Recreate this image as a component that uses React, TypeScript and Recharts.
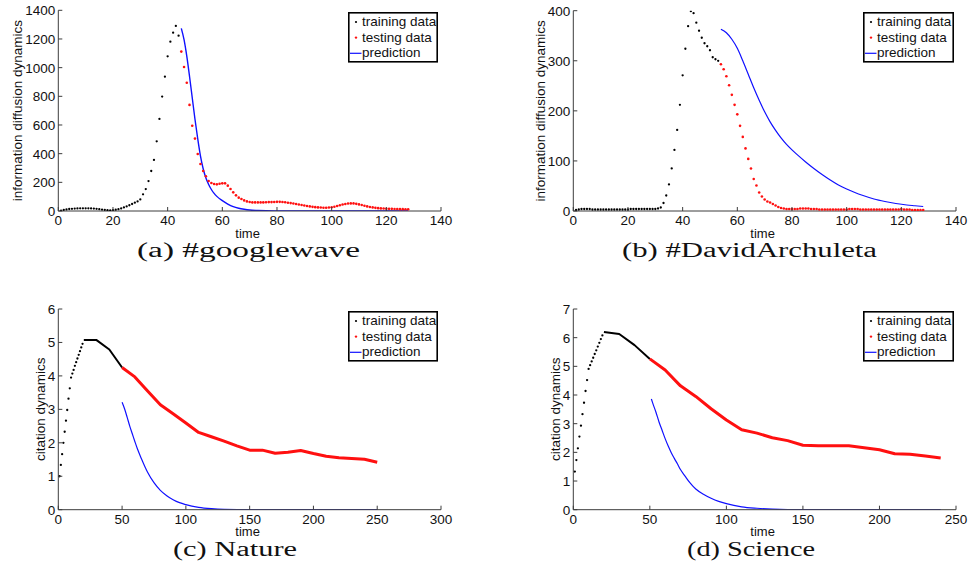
import React from "react";
import { LineChart, Line, XAxis, YAxis } from "recharts";

const SANS = "'Liberation Sans', Arial, Helvetica, sans-serif";
const SERIF = "'Liberation Serif', 'Times New Roman', serif";
const AXIS = "#3c3c3c";
const INK = "#111";
const BLACK = "#000";
const RED = "#ff1010";
const BLUE = "#1010ff";

// (a) #googlewave  (one value per time step)
const gwTrainStart = 1;
const gwTrain = [
  3, 8, 11, 14, 15, 17, 18, 19, 19, 19,
  19, 18, 17, 15, 13, 10, 8, 6, 5, 6,
  9, 13, 18, 25, 32, 40, 49, 58, 67, 81,
  116, 153, 209, 279, 356, 486, 642, 798, 937, 1079,
  1181, 1244, 1291, 1223,
];
const gwTestStart = 45;
const gwTest = [
  1112, 1005, 895, 740, 595, 505, 398, 328, 279, 242,
  209, 195, 188, 186, 190, 193, 193, 177, 153, 130,
  109, 93, 84, 74, 67, 63, 60, 60, 60, 60,
  60, 61, 62, 62, 63, 64, 64, 63, 61, 58,
  55, 52, 49, 45, 42, 38, 35, 32, 29, 27,
  25, 24, 23, 23, 24, 26, 30, 35, 40, 45,
  49, 52, 53, 53, 50, 46, 42, 37, 32, 28,
  25, 22, 20, 18, 17, 16, 15, 15, 14, 14,
  13, 13, 12, 12,
];
const gwPredT = [45, 46, 47, 48, 49, 50, 51, 52, 53, 54, 55, 56, 57, 58, 60, 62, 64, 66, 68, 70, 73, 76, 80, 90, 128];
const gwPredV = [1274, 1195, 1080, 940, 790, 640, 505, 385, 295, 230, 185, 150, 123, 102, 72, 48, 30, 19, 12, 7, 4, 2, 1, 0, 0];

// (b) #DavidArchuleta
const daTrainStart = 1;
const daTrain = [
  2, 3, 4, 4, 4, 4, 3, 3, 3, 3,
  3, 3, 3, 3, 3, 3, 3, 3, 3, 3,
  4, 4, 4, 4, 4, 4, 4, 4, 4, 4,
  5, 7, 16, 31, 53, 85, 122, 162, 212, 271,
  324, 369, 399, 395, 376, 360, 346, 335, 329, 321,
  307, 303, 300,
];
const daTestStart = 54;
const daTest = [
  293, 283, 269, 251, 232, 212, 193, 170, 148, 125,
  104, 85, 64, 51, 37, 29, 23, 19, 17, 14,
  11, 8, 6, 5, 4, 4, 4, 4, 4, 5,
  5, 5, 5, 4, 4, 4, 3, 3, 3, 3,
  3, 3, 3, 3, 3, 3, 3, 4, 4, 4,
  4, 3, 3, 3, 3, 3, 3, 3, 3, 3,
  3, 3, 3, 3, 3, 3, 4, 3, 3, 3,
  2, 2, 2, 2, 2,
];
const daPredT = [54, 56, 58, 60, 62, 64, 66, 68, 70, 72, 74, 76, 78, 80, 82, 85, 88, 91, 94, 97, 100, 103, 106, 110, 114, 118, 122, 125, 128];
const daPredV = [363, 356, 343, 325, 300, 273, 246, 221, 198, 178, 161, 146, 133, 122, 112, 98, 85, 73, 62, 52, 44, 37, 31, 24, 19, 15, 12, 10.5, 9];

// (c) Nature
const natDotStart = 1;
const natDots = [1.0, 1.34, 1.66, 2.0, 2.33, 2.66, 2.98, 3.32, 3.63, 3.95, 4.07, 4.18, 4.3, 4.41, 4.52, 4.63, 4.74, 4.85, 4.96];
const natTrainT = [20, 30, 40, 50];
const natTrainV = [5.07, 5.07, 4.79, 4.25];
const natTestT = [50, 60, 70, 80, 90, 100, 110, 120, 130, 140, 150, 160, 170, 180, 190, 200, 210, 220, 230, 240, 250];
const natTestV = [4.25, 3.97, 3.55, 3.14, 2.87, 2.59, 2.31, 2.18, 2.05, 1.91, 1.78, 1.78, 1.69, 1.72, 1.77, 1.68, 1.6, 1.55, 1.53, 1.51, 1.42];
const natPredT = [50, 52, 54, 56, 58, 60, 62, 65, 68, 70, 75, 80, 85, 90, 95, 100, 110, 120, 130, 150, 250];
const natPredV = [3.21, 3.01, 2.76, 2.5, 2.27, 2.04, 1.82, 1.54, 1.28, 1.12, 0.81, 0.58, 0.42, 0.3, 0.21, 0.15, 0.07, 0.03, 0.01, 0, 0];

// (d) Science
const sciDotStart = 1;
const sciDots = [1.33, 1.73, 2.14, 2.55, 2.93, 3.33, 3.73, 4.14, 4.52, 4.91, 5.04, 5.17, 5.3, 5.43, 5.56, 5.69, 5.82, 5.95, 6.08];
const sciTrainT = [20, 30, 40, 50];
const sciTrainV = [6.2, 6.13, 5.74, 5.26];
const sciTestT = [50, 60, 70, 80, 90, 100, 110, 120, 130, 140, 150, 160, 170, 180, 190, 200, 210, 220, 230, 240];
const sciTestV = [5.26, 4.87, 4.32, 3.95, 3.52, 3.13, 2.79, 2.67, 2.51, 2.41, 2.25, 2.23, 2.23, 2.23, 2.16, 2.09, 1.95, 1.93, 1.87, 1.8];
const sciPredT = [51, 52, 54, 56, 58, 60, 62, 64, 66, 68, 70, 73, 76, 80, 85, 90, 95, 100, 110, 120, 130, 150, 240];
const sciPredV = [3.86, 3.7, 3.4, 3.06, 2.77, 2.48, 2.22, 1.99, 1.79, 1.6, 1.4, 1.17, 0.95, 0.72, 0.54, 0.4, 0.29, 0.21, 0.1, 0.05, 0.02, 0, 0];

const legendLabels = ["training data", "testing data", "prediction"];

type Pt = { t: number; v: number };
const fromStart = (start: number, vals: number[]): Pt[] => vals.map((v, i) => ({ t: start + i, v }));
const zip = (ts: number[], vs: number[]): Pt[] => ts.map((t, i) => ({ t, v: vs[i] }));

type Series = { data: Pt[]; kind: "dots" | "line" | "curve"; color: string; size: number };

const XTick = (props: any) => {
  const { x, y, payload } = props;
  return (
    <g>
      <line x1={x} y1={y} x2={x} y2={y - 4} stroke={AXIS} strokeWidth={1} />
      <text x={x} y={y + 14} textAnchor="middle" fontFamily={SANS} fontSize={13.5} fill={INK}>
        {payload.value}
      </text>
    </g>
  );
};

const YTick = (props: any) => {
  const { x, y, payload } = props;
  return (
    <g>
      <line x1={x} y1={y} x2={x + 4} y2={y} stroke={AXIS} strokeWidth={1} />
      <text x={x - 3} y={y + 5} textAnchor="end" fontFamily={SANS} fontSize={13.5} fill={INK}>
        {payload.value}
      </text>
    </g>
  );
};

const LegendBox = ({ x, y, w }: { x: number; y: number; w: number }) => (
  <svg width={w} height={52} style={{ position: "absolute", left: x, top: y }}>
    <rect x={0.8} y={0.8} width={w - 1.6} height={49} fill="#fff" stroke="#000" strokeWidth={1.6} />
    <circle cx={8} cy={10} r={1.1} fill={BLACK} />
    <circle cx={8} cy={25.6} r={1.2} fill={RED} />
    <line x1={2} y1={41.3} x2={13.5} y2={41.3} stroke={BLUE} strokeWidth={1.2} />
    {legendLabels.map((l, i) => (
      <text key={l} x={14} y={13.8 + i * 15.7} fontFamily={SANS} fontSize={13.5} fill={INK}>
        {l}
      </text>
    ))}
  </svg>
);

interface PanelProps {
  left: number;
  top: number;
  width: number;
  height: number;
  plot: { x: number; y: number; w: number; h: number };
  xDomain: [number, number];
  xTicks: number[];
  yDomain: [number, number];
  yTicks: number[];
  yLabel: string;
  yLabelX: number;
  series: Series[];
  legendX: number;
}

const Panel = (p: PanelProps) => {
  const { plot } = p;
  const xAxisH = 30;
  return (
    <div style={{ position: "absolute", left: p.left, top: p.top, width: p.width, height: p.height }}>
      <LineChart
        width={p.width}
        height={p.height}
        margin={{
          top: plot.y,
          right: p.width - plot.x - plot.w,
          bottom: p.height - plot.y - plot.h - xAxisH,
          left: 0,
        }}
      >
        <XAxis
          type="number"
          dataKey="t"
          domain={p.xDomain}
          ticks={p.xTicks}
          interval={0}
          allowDataOverflow
          height={xAxisH}
          tickSize={0}
          tickMargin={0}
          tickLine={false}
          axisLine={{ stroke: AXIS, strokeWidth: 1 }}
          tick={XTick}
        />
        <YAxis
          type="number"
          domain={p.yDomain}
          ticks={p.yTicks}
          interval={0}
          allowDataOverflow
          width={plot.x}
          tickSize={0}
          tickMargin={0}
          tickLine={false}
          axisLine={{ stroke: AXIS, strokeWidth: 1 }}
          tick={YTick}
        />
        {p.series.map((s, i) =>
          s.kind === "dots" ? (
            <Line
              key={i}
              data={s.data}
              dataKey="v"
              type="linear"
              stroke="none"
              strokeWidth={0}
              dot={(d: any) =>
                d.cx == null ? <g key={i + "-" + d.index} /> : (
                  <circle key={i + "-" + d.index} cx={d.cx} cy={d.cy} r={s.size} fill={s.color} />
                )
              }
              activeDot={false}
              isAnimationActive={false}
            />
          ) : (
            <Line
              key={i}
              data={s.data}
              dataKey="v"
              type={s.kind === "curve" ? "monotone" : "linear"}
              stroke={s.color}
              strokeWidth={s.size}
              strokeLinejoin="round"
              dot={false}
              activeDot={false}
              isAnimationActive={false}
            />
          )
        )}
      </LineChart>
      <svg width={p.width} height={p.height} style={{ position: "absolute", left: 0, top: 0, pointerEvents: "none" }}>
        <text
          transform={`translate(${p.yLabelX},${plot.y + plot.h / 2}) rotate(-90)`}
          textAnchor="middle"
          dominantBaseline="central"
          fontFamily={SANS}
          fontSize={13.5}
          fill={INK}
        >
          {p.yLabel}
        </text>
        <text x={plot.x + plot.w / 2 - 2} y={plot.y + plot.h + 26.5} textAnchor="middle" fontFamily={SANS} fontSize={13} fill={INK}>
          time
        </text>
      </svg>
      <LegendBox x={p.legendX} y={plot.y + 1.5} w={p.legendX > 370 ? 91 : 90} />
    </div>
  );
};

const captions = [
  { text: "(a)  #googlewave", x: 137, y: 257, w: 223 },
  { text: "(b)  #DavidArchuleta", x: 622, y: 257, w: 255 },
  { text: "(c)  Nature", x: 173, y: 556, w: 124 },
  { text: "(d)  Science", x: 687, y: 556, w: 128 },
];

export default function App() {
  const dotsBlack = 1.15;
  const dotsRed = 1.3;
  return (
    <div style={{ position: "absolute", left: 0, top: 0, width: 974, height: 578, background: "#fff", overflow: "hidden" }}>
      <Panel
        left={0}
        top={0}
        width={474}
        height={290}
        plot={{ x: 58.3, y: 10.3, w: 382.7, h: 200.7 }}
        xDomain={[0, 140]}
        xTicks={[0, 20, 40, 60, 80, 100, 120, 140]}
        yDomain={[0, 1400]}
        yTicks={[0, 200, 400, 600, 800, 1000, 1200, 1400]}
        yLabel="information diffusion dynamics"
        yLabelX={17}
        legendX={348}
        series={[
          { data: fromStart(gwTrainStart, gwTrain), kind: "dots", color: BLACK, size: dotsBlack },
          { data: fromStart(gwTestStart, gwTest), kind: "dots", color: RED, size: dotsRed },
          { data: zip(gwPredT, gwPredV), kind: "curve", color: BLUE, size: 1.4 },
        ]}
      />
      <Panel
        left={480}
        top={0}
        width={494}
        height={290}
        plot={{ x: 93.3, y: 10.7, w: 382.7, h: 200.3 }}
        xDomain={[0, 140]}
        xTicks={[0, 20, 40, 60, 80, 100, 120, 140]}
        yDomain={[0, 400]}
        yTicks={[0, 100, 200, 300, 400]}
        yLabel="information diffusion dynamics"
        yLabelX={60}
        legendX={383}
        series={[
          { data: fromStart(daTrainStart, daTrain), kind: "dots", color: BLACK, size: dotsBlack },
          { data: fromStart(daTestStart, daTest), kind: "dots", color: RED, size: dotsRed },
          { data: zip(daPredT, daPredV), kind: "curve", color: BLUE, size: 1.2 },
        ]}
      />
      <Panel
        left={0}
        top={290}
        width={474}
        height={288}
        plot={{ x: 58.3, y: 19, w: 382.7, h: 200.7 }}
        xDomain={[0, 300]}
        xTicks={[0, 50, 100, 150, 200, 250, 300]}
        yDomain={[0, 6]}
        yTicks={[0, 1, 2, 3, 4, 5, 6]}
        yLabel="citation dynamics"
        yLabelX={40}
        legendX={348}
        series={[
          { data: fromStart(natDotStart, natDots), kind: "dots", color: BLACK, size: dotsBlack },
          { data: zip(natTrainT, natTrainV), kind: "line", color: BLACK, size: 2 },
          { data: zip(natTestT, natTestV), kind: "line", color: RED, size: 3 },
          { data: zip(natPredT, natPredV), kind: "curve", color: BLUE, size: 1.2 },
        ]}
      />
      <Panel
        left={480}
        top={290}
        width={494}
        height={288}
        plot={{ x: 93.3, y: 19, w: 382.7, h: 200.7 }}
        xDomain={[0, 250]}
        xTicks={[0, 50, 100, 150, 200, 250]}
        yDomain={[0, 7]}
        yTicks={[0, 1, 2, 3, 4, 5, 6, 7]}
        yLabel="citation dynamics"
        yLabelX={75}
        legendX={383}
        series={[
          { data: fromStart(sciDotStart, sciDots), kind: "dots", color: BLACK, size: dotsBlack },
          { data: zip(sciTrainT, sciTrainV), kind: "line", color: BLACK, size: 2 },
          { data: zip(sciTestT, sciTestV), kind: "line", color: RED, size: 3 },
          { data: zip(sciPredT, sciPredV), kind: "curve", color: BLUE, size: 1.2 },
        ]}
      />
      <svg width={974} height={578} style={{ position: "absolute", left: 0, top: 0, pointerEvents: "none" }}>
        {captions.map((c) => (
          <text
            key={c.text}
            x={c.x}
            y={c.y}
            textLength={c.w}
            lengthAdjust="spacingAndGlyphs"
            fontFamily={SERIF}
            fontSize={20}
            fill={INK}
          >
            {c.text}
          </text>
        ))}
      </svg>
    </div>
  );
}
